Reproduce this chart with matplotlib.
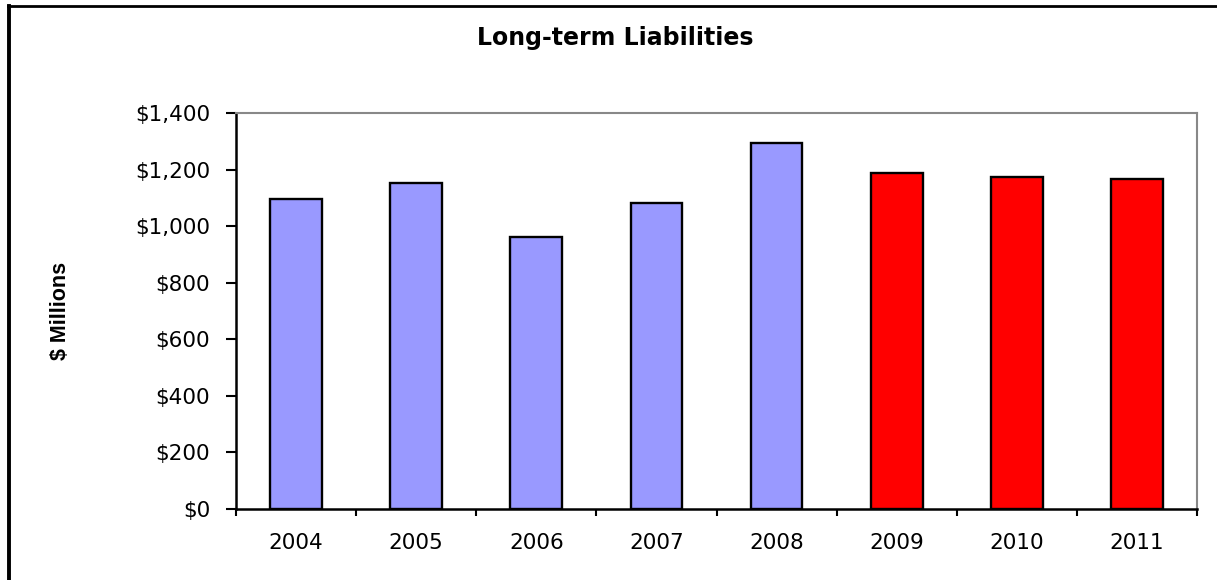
import matplotlib
matplotlib.use("Agg")
import matplotlib.pyplot as plt
from matplotlib.lines import Line2D
import numpy as np

years = ["2004", "2005", "2006", "2007", "2008", "2009", "2010", "2011"]
liabilities = [1096, 1153, 960, 1083, 1293, 1189, 1174, 1167]
bar_colors = ["#9999FF"] * 5 + ["#FF0000"] * 3
y_ticks = [0, 200, 400, 600, 800, 1000, 1200, 1400]
y_tick_labels = ["$0", "$200", "$400", "$600", "$800", "$1,000", "$1,200", "$1,400"]

plt.rcParams["font.family"] = ["DejaVu Sans"]

fig = plt.figure(figsize=(12.17, 5.80), dpi=100)
ax = fig.add_axes([236 / 1217, 1 - 509 / 580, (1197 - 236) / 1217, (509 - 113) / 580])

x = np.arange(len(years))
ax.bar(x, liabilities, width=0.43, color=bar_colors, edgecolor="black",
       linewidth=1.7, zorder=3)

ax.set_xlim(-0.5, len(years) - 0.5)
ax.set_ylim(0, 1400)
ax.set_yticks(y_ticks)
ax.set_yticklabels(y_tick_labels, fontsize=15.5)
ax.set_xticks(x)
ax.set_xticklabels(years, fontsize=15.5)
ax.set_xticks(np.arange(-0.5, len(years)), minor=True)
ax.tick_params(axis="x", which="major", length=0, pad=17)
ax.tick_params(axis="x", which="minor", length=5, width=1.5, direction="out")
ax.tick_params(axis="y", length=7.5, width=1.5, direction="out", pad=11)

for side in ("left", "bottom"):
    ax.spines[side].set_color("black")
    ax.spines[side].set_linewidth(1.8)
for side in ("top", "right"):
    ax.spines[side].set_color("#888888")
    ax.spines[side].set_linewidth(1.5)

ax.set_ylabel("$ Millions", fontsize=15.5, fontweight="bold",
              family=["Liberation Sans", "DejaVu Sans"])
ax.yaxis.set_label_coords(-(236 - 71) / 961, 0.5)

fig.text((443 + 787) / 2 / 1217, 1 - 38 / 580, "Long-term Liabilities",
         ha="center", va="center", fontsize=17, fontweight="bold")

# outer chart frame (left and top edges)
fig.add_artist(Line2D([9 / 1217, 9 / 1217], [0, 1 - 6 / 580], color="black",
                      linewidth=2.8, transform=fig.transFigure))
fig.add_artist(Line2D([8 / 1217, 1], [1 - 6 / 580, 1 - 6 / 580], color="black",
                      linewidth=2.0, transform=fig.transFigure))

fig.savefig("out.png", dpi=100)
